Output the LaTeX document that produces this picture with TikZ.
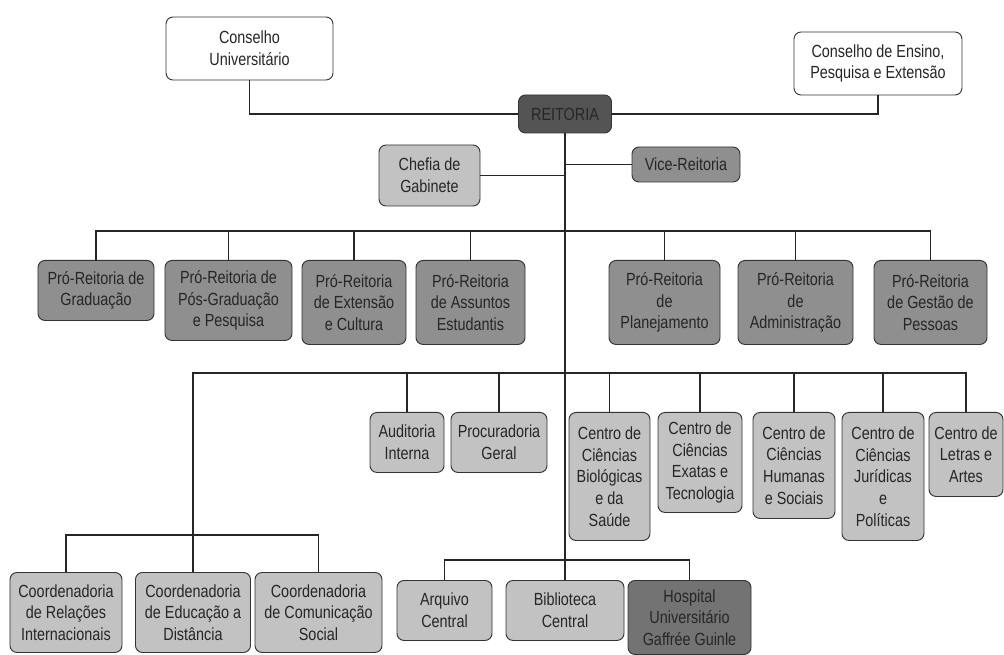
\documentclass[tikz,border=0pt]{standalone}
\usepackage{fontspec}
\setmainfont{Liberation Sans}[FakeStretch=0.82]
\definecolor{reitfill}{gray}{0.33}
\definecolor{midfill}{gray}{0.56}
\definecolor{lightfill}{gray}{0.76}
\definecolor{hospfill}{gray}{0.45}

\begin{document}
\begin{tikzpicture}[x=0.03cm, y=-0.03cm,
  orgbox/.style={rectangle, rounded corners=6pt, draw=black!80, line width=0.8pt, align=center, inner sep=2pt, font=\fontsize{15}{18.5}\selectfont, text=black!85},
  white box/.style={orgbox, fill=white},
  light box/.style={orgbox, fill=lightfill},
  mid box/.style={orgbox, fill=midfill},
  link/.style={line width=1.2pt, black!85}]

\useasboundingbox (0,0) rectangle (1004,655);
\fill[white] (0,0) rectangle (1004,655);

\node[white box, minimum width=5.01cm, minimum height=1.89cm] (cu) at (249.5, 48.5) {Conselho\\Universitário};
\node[white box, minimum width=5.04cm, minimum height=1.89cm] (cepe) at (878, 63.5) {Conselho de Ensino,\\Pesquisa e Extensão};
\node[orgbox, fill=reitfill, minimum width=2.79cm, minimum height=1.14cm] (reit) at (565, 114) {REITORIA};
\node[light box, minimum width=3.03cm, minimum height=1.83cm] (chefia) at (429.5, 175.5) {Chefia de\\Gabinete};
\node[mid box, minimum width=3.24cm, minimum height=1.05cm] (vice) at (686, 164.5) {Vice-Reitoria};

\draw[link] (cu.south) |- (reit.west);
\draw[link] (reit.east) -| (cepe.south);
\draw[link] (chefia.east) -- (chefia.east -| reit.south);
\draw[link] (vice.west) -- (vice.west -| reit.south);

\node[mid box, anchor=north, minimum width=3.48cm, minimum height=1.8cm] (pr1) at (96, 260) {Pró-Reitoria de\\Graduação};
\node[mid box, anchor=north, minimum width=3.81cm, minimum height=2.4cm] (pr2) at (228.5, 260) {Pró-Reitoria de\\Pós-Graduação\\e Pesquisa};
\node[mid box, anchor=north, minimum width=3.12cm, minimum height=2.52cm] (pr3) at (354, 260) {Pró-Reitoria\\de Extensão\\e Cultura};
\node[mid box, anchor=north, minimum width=3.27cm, minimum height=2.52cm] (pr4) at (470.5, 260) {Pró-Reitoria\\de Assuntos\\Estudantis};
\node[mid box, anchor=north, minimum width=3.33cm, minimum height=2.52cm] (pr5) at (664.5, 260) {Pró-Reitoria\\de\\Planejamento};
\node[mid box, anchor=north, minimum width=3.45cm, minimum height=2.52cm] (pr6) at (795.5, 260) {Pró-Reitoria\\de\\Administração};
\node[mid box, anchor=north, minimum width=3.39cm, minimum height=2.52cm] (pr7) at (930.5, 260) {Pró-Reitoria\\de Gestão de\\Pessoas};

\coordinate (prbus) at (565, 231);
\draw[link] (pr1.north) -- (pr1.north |- prbus) -- (pr7.north |- prbus) -- (pr7.north);
\foreach \n in {pr2,pr3,pr4,pr5,pr6}
  \draw[link] (\n.north) -- (\n.north |- prbus);

\node[light box, anchor=north, minimum width=2.22cm, minimum height=1.8cm] (aud) at (407, 412) {Auditoria\\Interna};
\node[light box, anchor=north, minimum width=2.88cm, minimum height=1.8cm] (proc) at (499, 412) {Procuradoria\\Geral};
\node[light box, anchor=north, minimum width=2.43cm, minimum height=3.84cm] (cbs) at (609.5, 412) {Centro de\\Ciências\\Biológicas\\e da\\Saúde};
\node[light box, anchor=north, minimum width=2.52cm, minimum height=3cm] (ccet) at (700, 412) {Centro de\\Ciências\\Exatas e\\Tecnologia};
\node[light box, anchor=north, minimum width=2.46cm, minimum height=3.18cm] (cchs) at (794, 412) {Centro de\\Ciências\\Humanas\\e Sociais};
\node[light box, anchor=north, minimum width=2.46cm, minimum height=3.84cm] (ccjp) at (883, 412) {Centro de\\Ciências\\Jurídicas\\e\\Políticas};
\node[light box, anchor=north, minimum width=2.22cm, minimum height=2.52cm] (cla) at (966, 412) {Centro de\\Letras e\\Artes};

\node[light box, anchor=north, minimum width=3.36cm, minimum height=2.4cm] (coo1) at (66, 572) {Coordenadoria\\de Relações\\Internacionais};
\node[light box, anchor=north, minimum width=3.45cm, minimum height=2.4cm] (coo2) at (193, 572) {Coordenadoria\\de Educação a\\Distância};
\node[light box, anchor=north, minimum width=3.81cm, minimum height=2.4cm] (coo3) at (318.5, 572) {Coordenadoria\\de Comunicação\\Social};

\coordinate (midbus) at (565, 373);
\draw[link] (coo2.north) -- (coo2.north |- midbus) -- (cla.north |- midbus) -- (cla.north);
\foreach \n in {aud,proc,cbs,ccet,cchs,ccjp}
  \draw[link] (\n.north) -- (\n.north |- midbus);

\coordinate (coobus) at (193, 535);
\draw[link] (coo1.north) -- (coo1.north |- coobus) -- (coo3.north |- coobus) -- (coo3.north);

\node[light box, anchor=north, minimum width=2.85cm, minimum height=1.8cm] (arq) at (444.5, 580) {Arquivo\\Central};
\node[light box, anchor=north, minimum width=3.54cm, minimum height=1.8cm] (bib) at (565, 580) {Biblioteca\\Central};
\node[orgbox, fill=hospfill, anchor=north, minimum width=3.69cm, minimum height=2.22cm] (hosp) at (689.5, 580) {Hospital\\Universitário\\Gaffrée Guinle};

\coordinate (basebus) at (565, 560);
\draw[link] (arq.north) -- (arq.north |- basebus) -- (hosp.north |- basebus) -- (hosp.north);
\draw[link] (reit.south) -- (bib.north);

\end{tikzpicture}
\end{document}
